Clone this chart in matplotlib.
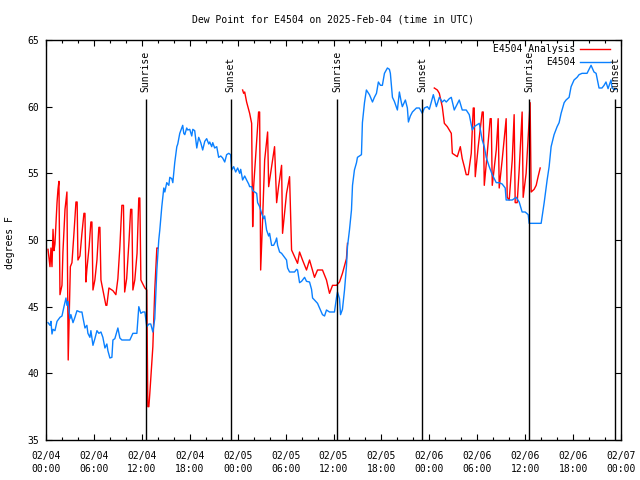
import numpy as np
import matplotlib
matplotlib.use('Agg')
import matplotlib.pyplot as plt

plt.rcParams['font.family'] = ['DejaVu Sans Mono']
plt.rcParams['font.size'] = 7

# hours since 2025-02-04 00:00 UTC
obs_hours = [0.25, 0.5, 0.62, 0.75, 0.88, 1.12, 1.38, 1.75, 2.0, 2.25, 2.5, 2.62, 2.75, 3.0, 3.12,
             3.38, 3.62, 3.88, 4.25, 4.5, 4.62, 4.88, 5.12, 5.25, 5.5, 5.62, 5.88, 6.12, 6.38, 6.62,
             6.88, 7.12, 7.38, 7.62, 7.75, 8.0, 8.25, 8.38, 8.62, 9.0, 9.25, 9.5, 9.88, 10.5, 10.88,
             11.38, 11.62, 11.88, 12.12, 12.38, 12.62, 12.88, 13.12, 13.38, 13.62, 13.88, 14.12, 14.25,
             14.5, 14.75, 14.88, 15.12, 15.38, 15.5, 15.75, 15.88, 16.12, 16.38, 16.5, 16.75, 17.12,
             17.25, 17.38, 17.62, 17.75, 18.0, 18.25, 18.38, 18.62, 18.88, 19.12, 19.38, 19.62, 19.88,
             20.12, 20.38, 20.5, 20.75, 20.88, 21.12, 21.38, 21.62, 21.88, 22.12, 22.38, 22.62, 22.88,
             23.12, 23.25, 23.5, 23.75, 24.0, 24.25, 24.38, 24.62, 24.88, 25.12, 25.38, 25.5, 25.75,
             25.88, 26.12, 26.38, 26.5, 26.75, 27.0, 27.25, 27.38, 27.62, 27.88, 28.0, 28.25, 28.5,
             28.75, 28.88, 29.0, 29.25, 29.5, 29.88, 30.12, 30.25, 30.5, 30.88, 31.12, 31.38, 31.5,
             31.75, 32.0, 32.38, 32.62, 33.0, 33.25, 33.38, 33.62, 34.0, 34.25, 34.62, 34.88, 35.12,
             35.5, 35.88, 36.12, 36.38, 36.5, 36.75, 36.88, 37.12, 37.38, 37.62, 37.75, 38.0, 38.25,
             38.38, 38.62, 38.88, 39.0, 39.5, 39.62, 39.88, 40.12, 40.5, 40.88, 41.12, 41.38, 41.62,
             41.88, 42.12, 42.38, 42.75, 43.0, 43.12, 43.38, 43.62, 44.0, 44.25, 44.5, 44.62, 45.0,
             45.25, 45.38, 45.62, 45.88, 46.38, 46.75, 47.12, 47.38, 47.75, 48.0, 48.25, 48.5, 48.88,
             49.25, 49.62, 49.88, 50.12, 50.5, 50.75, 51.12, 51.5, 51.75, 52.12, 52.62, 53.0, 53.38,
             53.62, 53.88, 54.25, 54.62, 54.88, 55.12, 55.5, 55.88, 56.38, 56.75, 57.12, 57.5, 57.62,
             58.0, 58.38, 58.88, 59.25, 59.62, 60.0, 60.38, 60.5, 61.0, 61.5, 62.0, 62.38, 62.75, 63.0,
             63.25, 63.62, 64.0, 64.25, 64.5, 64.88, 65.12, 65.5, 65.75, 66.12, 66.5, 66.75, 67.12,
             67.5, 67.75, 68.0, 68.25, 68.62, 68.88, 69.25, 69.62, 69.88, 70.12, 70.38, 70.75, 70.88,
             71.12, 71.38]
obs_dewpt = [43.8, 43.6, 43.9, 42.95, 43.3, 43.2, 43.9, 44.2, 44.3, 45.0, 45.65, 45.1, 45.4, 44.1, 44.4,
             43.8, 44.2, 44.7, 44.6, 44.6, 44.2, 43.4, 43.6, 43.0, 42.7, 43.2, 42.1, 42.6, 43.2, 43.0,
             43.1, 42.7, 41.9, 42.2, 41.7, 41.15, 41.2, 42.5, 42.6, 43.4, 42.65, 42.5, 42.5, 42.5, 43.0,
             43.0, 45.0, 44.5, 44.6, 44.6, 43.5, 43.7, 43.7, 43.1, 44.1, 47.75, 50.0, 50.75,
             52.5, 53.9, 53.6, 54.3, 54.1, 54.7, 54.6, 54.3, 55.8, 57.0, 57.2, 58.0, 58.6,
             58.0, 57.9, 58.4, 58.25, 58.3, 57.8, 58.3, 58.2, 56.9, 57.7, 57.3, 56.75, 57.4,
             57.6, 57.2, 57.35, 57.0, 57.3, 56.9, 57.0, 56.2, 56.3, 56.15, 55.85, 56.4, 56.5,
             56.4, 55.25, 55.5, 55.1, 55.4, 55.0, 55.3, 54.5, 54.8, 54.5, 54.2, 54.0, 54.0,
             53.7, 53.6, 53.5, 52.8, 52.5, 52.0, 51.6, 51.8, 50.75, 50.3, 50.5, 49.6, 49.6,
             49.9, 50.15, 49.6, 49.1, 49.0, 48.7, 48.5, 47.9, 47.6, 47.6, 47.6, 47.8, 47.75,
             46.8, 46.9, 47.2, 46.9, 46.85, 46.3, 45.65, 45.5, 45.25, 44.9, 44.4, 44.3, 44.75,
             44.6, 44.6, 44.6, 45.7, 46.1, 45.6, 44.4, 44.8, 46.25, 48.0, 49.5, 50.75, 52.25,
             54.1, 55.25, 55.8, 56.2, 56.4, 58.8, 60.3, 61.25, 60.9, 60.35, 60.7, 61.0, 61.85,
             61.6, 61.6, 62.5, 62.9, 62.8, 62.5, 60.7, 60.4, 59.75, 61.1, 60.3, 60.0, 60.5,
             59.9, 58.85, 59.3, 59.6, 59.9, 59.9, 59.5, 59.9, 60.0, 59.8, 60.35, 60.9, 60.0,
             60.7, 60.35, 60.5, 60.35, 60.6, 60.7, 59.75, 60.2, 60.5, 59.75, 59.75, 59.4, 58.25,
             58.5, 58.6, 58.75, 57.5, 57.0, 56.2, 55.5, 54.9, 54.3, 54.3, 54.2, 53.9, 53.0,
             53.0, 53.0, 53.2, 52.85, 52.1, 52.1, 51.9, 51.25, 51.25, 51.25, 51.25, 52.8, 54.5, 55.5,
             57.0, 57.9, 58.5, 58.8, 59.5, 60.3, 60.5, 60.7, 61.5, 62.0, 62.2, 62.4, 62.5,
             62.5, 62.5, 62.8, 63.1, 62.6, 62.5, 61.4, 61.4, 61.6, 61.85, 61.35, 62.0, 61.4,
             61.3, 61.3]

# analysis series, nan marks the gaps
ana_hours = [0.25, 0.38, 0.5, 0.62, 0.75, 0.88, 1.0, 1.12, 1.38, 1.5, 1.62, 1.75, 2.0, 2.12, 2.38, 2.62,
             2.78, 3.05, 3.25, 3.5, 3.75, 3.9, 4.0, 4.25, 4.5, 4.75, 4.88, 5.0, 5.12, 5.4, 5.62, 5.75,
             5.88, 6.12, 6.38, 6.62, 6.75, 6.88, 7.12, 7.5, 7.62, 7.88, 8.38, 8.75, 9.0, 9.25, 9.5,
             9.7, 9.85, 10.1, 10.4, 10.6, 10.75, 10.88, 11.12, 11.4, 11.62, 11.75, 11.88, 12.0, 12.38,
             12.62, 12.75, 12.88, 13.0, 13.38, 13.62, 13.88, 14.0,
             np.nan,
             24.62, 24.75, 24.88, 25.12, 25.5, 25.75, 25.88, 26.0, 26.38, 26.62, 26.75, 26.88, 27.12,
             27.38, 27.75, 27.88, 28.25, 28.62, 28.88, 29.12, 29.5, 29.62, 30.12, 30.5, 30.75, 31.12,
             31.5, 31.75, 32.12, 32.62, 33.0, 33.62, 34.0, 34.62, 35.12, 35.5, 35.88, 36.38, 36.75,
             37.12, 37.62, 37.75,
             np.nan,
             48.62, 49.0, 49.25, 49.62, 49.88, 50.25, 50.75, 50.88, 51.5, 51.88, 52.12, 52.38, 52.62,
             52.88, 53.25, 53.5, 53.62, 53.75, 54.12, 54.62, 54.75, 54.88, 55.25, 55.62, 55.75, 55.88,
             56.38, 56.62, 56.75, 57.12, 57.62, 57.75, 58.0, 58.38, 58.62, 58.75, 59.0, 59.25, 59.62,
             59.75, 60.12, 60.62, 60.75, 61.12, 61.38, 61.62, 61.88]
ana_dewpt = [49.3, 48.6, 48.0, 49.4, 48.0, 50.8, 49.2, 49.7, 52.8, 53.8, 54.4, 45.9, 46.6, 49.1, 52.3, 53.6,
             41.0, 48.0, 48.3, 50.5, 52.85, 52.85, 48.5, 48.8, 50.5, 52.0, 52.0, 46.85, 47.8, 49.5, 51.35, 51.35,
             46.25, 47.0, 48.5, 50.95, 50.95, 47.0, 46.25, 45.1, 45.1, 46.4, 46.2, 45.9, 47.1, 49.5, 52.6,
             52.6, 46.1, 47.1, 50.0, 52.3, 52.3, 46.25, 47.0, 49.0, 53.15, 53.15, 47.0, 46.85, 46.4,
             46.25, 37.5, 37.5, 38.5, 42.0, 46.25, 49.4, 49.4,
             np.nan,
             61.25, 61.0, 61.1, 60.35, 59.5, 58.75, 51.0, 54.0, 57.5, 59.6, 59.6, 47.75, 51.5,
             56.0, 58.1, 54.0, 55.5, 57.0, 52.8, 54.0, 55.6, 50.5, 53.5, 54.75, 49.25, 48.75,
             48.25, 49.1, 48.5, 47.75, 48.5, 47.2, 47.75, 47.75, 47.0, 46.0, 46.6, 46.6, 46.85,
             47.5, 48.6, 49.75,
             np.nan,
             61.4, 61.25, 61.0, 60.0, 58.75, 58.5, 58.0, 56.5, 56.25, 57.0, 56.1, 55.5, 54.9,
             54.9, 56.5, 59.9, 59.9, 54.75, 57.0, 59.6, 59.6, 54.1, 56.5, 59.1, 59.1, 54.1,
             56.75, 59.1, 53.9, 56.0, 59.1, 53.2, 53.0, 56.0, 59.4, 52.8, 52.8, 55.25, 59.6,
             53.2, 55.0, 60.3, 53.6, 53.8, 54.1, 54.75, 55.4]

sunrise_hours = [12.5, 36.5, 60.5]
sunset_hours = [23.12, 47.12, 71.25]

tick_hours = list(range(0, 73, 6))
tick_labels = ['02/04\n00:00', '02/04\n06:00', '02/04\n12:00', '02/04\n18:00',
               '02/05\n00:00', '02/05\n06:00', '02/05\n12:00', '02/05\n18:00',
               '02/06\n00:00', '02/06\n06:00', '02/06\n12:00', '02/06\n18:00',
               '02/07\n00:00']

fig = plt.figure(figsize=(6.4, 4.8), dpi=100)
ax = fig.add_axes([46/640, 40/480, 575/640, 400/480])

ax.plot(ana_hours, ana_dewpt, color='#ff0000', lw=1.0, label='E4504 Analysis')
ax.plot(obs_hours, obs_dewpt, color='#0a80ff', lw=1.0, label='E4504')

for h in sunrise_hours:
    ax.vlines(h, 35, 60.6, color='black', lw=1.0)
    ax.text(h, 61.1, 'Sunrise', rotation=90, ha='center', va='bottom')
for h in sunset_hours:
    ax.vlines(h, 35, 60.6, color='black', lw=1.0)
    ax.text(h, 61.1, 'Sunset', rotation=90, ha='center', va='bottom')

ax.set_xlim(0, 72)
ax.set_ylim(35, 65)
ax.set_xticks(tick_hours)
ax.set_xticklabels(tick_labels)
for lbl in ax.get_xticklabels():
    lbl.set_linespacing(1.4)
ax.set_xticks(range(0, 73, 2), minor=True)
ax.set_yticks(range(35, 66, 5))
ax.tick_params(which='both', direction='in', top=True, right=True, width=0.8)
ax.tick_params(which='major', length=4.5)
ax.tick_params(which='minor', length=2.5)
ax.tick_params(axis='x', pad=8)
ax.tick_params(axis='y', pad=5)
for s in ax.spines.values():
    s.set_linewidth(1.0)

fig.text(333/640, 1 - 19/480, 'Dew Point for E4504 on 2025-Feb-04 (time in UTC)',
         ha='center', va='center')
fig.text(10/640, 1 - 243/480, 'degrees F', rotation=90, ha='center', va='center')

ax.legend(loc='upper right', bbox_to_anchor=(0.981, 0.989), frameon=False, markerfirst=False,
          handlelength=3.1, handletextpad=0.5, labelspacing=0.3, borderaxespad=0, borderpad=0)

fig.savefig('out.png', dpi=100)
